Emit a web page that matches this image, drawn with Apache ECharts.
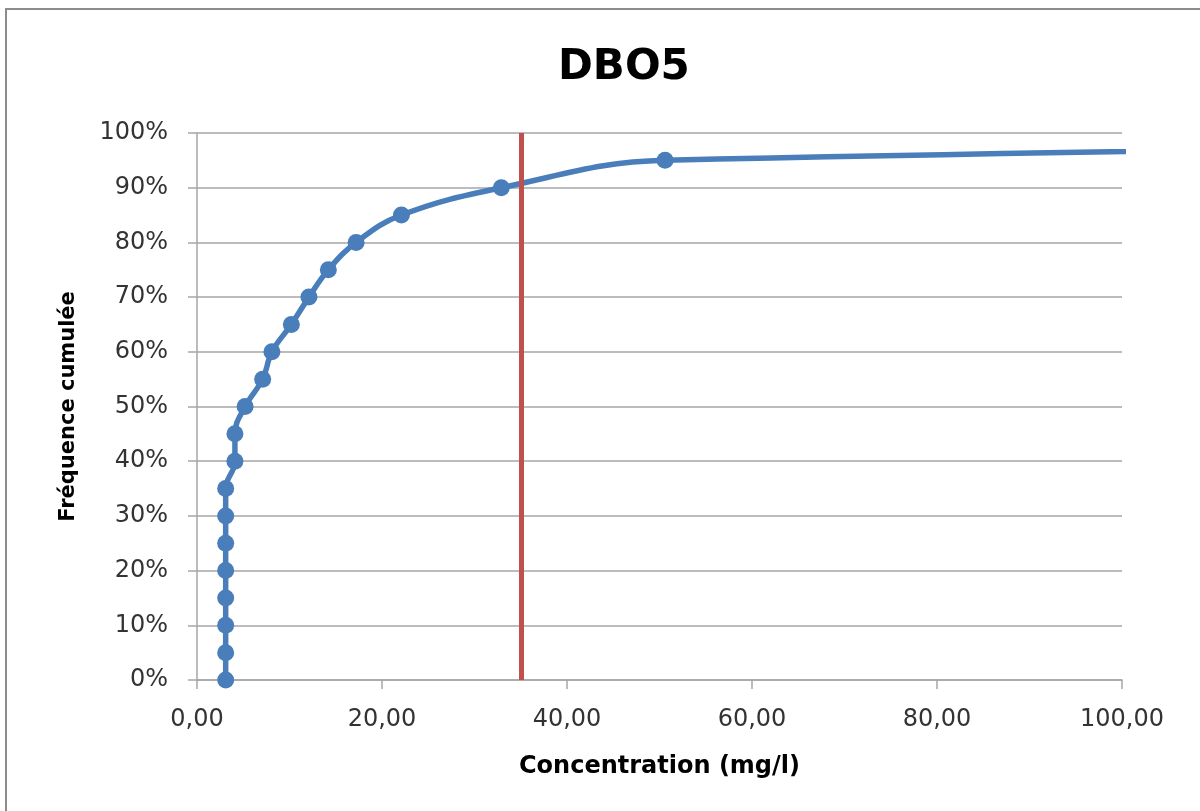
<!DOCTYPE html>
<html>
<head>
<meta charset="utf-8">
<script src="https://cdn.jsdelivr.net/npm/echarts@6/dist/echarts.min.js"></script>
<style>
    html, body { margin: 0; padding: 0; background: #fff; overflow: hidden; width: 1200px; height: 811px; }
    #frame { position: absolute; left: 5px; top: 8px; width: 1300px; height: 900px; border: 2px solid #8c8c8c; box-sizing: border-box; }
    #main { position: absolute; left: 0; top: 0; width: 1200px; height: 811px; }
</style>
</head>
<body>
<div id="frame"></div>
<div id="main"></div>
<script>
// concentration (mg/l), last one lies beyond the axis
var concentrations = [3.1, 3.1, 3.1, 3.1, 3.1, 3.1, 3.1, 3.1, 4.1, 4.1, 5.2, 7.1, 8.1, 10.2, 12.1, 14.2, 17.2, 22.1, 32.9, 50.6, 296];
// cumulative frequency (%)
var frequencies = [0, 5, 10, 15, 20, 25, 30, 35, 40, 45, 50, 55, 60, 65, 70, 75, 80, 85, 90, 95, 100];
var limitValue = 35;
var xTicks = [0, 100, 20];
var yTicks = [0, 100, 10];

var points = [];
for (var i = 0; i < concentrations.length; i++) {
    points.push([concentrations[i], frequencies[i]]);
}

var chart = echarts.init(document.getElementById('main'));
var labelFont = 'DejaVu Sans';

var option = {
    animation: false,
    title: {
        text: 'DBO5',
        left: 553,
        top: 42,
        textStyle: { fontFamily: labelFont, fontSize: 42, fontWeight: 'bold', color: '#000' }
    },
    grid: { left: 197, right: 78, top: 133, bottom: 131 },
    xAxis: {
        type: 'value',
        min: xTicks[0],
        max: xTicks[1],
        interval: xTicks[2],
        name: 'Concentration (mg/l)',
        nameLocation: 'middle',
        nameGap: 75,
        nameTextStyle: { fontFamily: labelFont, fontSize: 24, fontWeight: 'bold', color: '#000' },
        axisLine: { show: true, lineStyle: { color: '#a6a6a6', width: 1.5 } },
        axisTick: { show: true, inside: false, length: 9, lineStyle: { color: '#a6a6a6', width: 1.5 } },
        axisLabel: {
            margin: 28,
            fontFamily: labelFont, fontSize: 24, color: '#333',
            formatter: function (v) { return v.toFixed(2).replace('.', ','); }
        },
        splitLine: { show: false }
    },
    yAxis: {
        type: 'value',
        min: yTicks[0],
        max: yTicks[1],
        interval: yTicks[2],
        name: 'Fréquence cumulée',
        nameLocation: 'middle',
        nameGap: 118,
        nameTextStyle: { fontFamily: labelFont, fontSize: 21, fontWeight: 'bold', color: '#000' },
        axisLine: { show: true, lineStyle: { color: '#a6a6a6', width: 1.5 } },
        axisTick: { show: true, inside: false, length: 9, lineStyle: { color: '#a6a6a6', width: 1.5 } },
        axisLabel: {
            margin: 29,
            fontFamily: labelFont, fontSize: 24, color: '#333',
            formatter: '{value}%'
        },
        splitLine: { show: true, lineStyle: { color: '#a6a6a6', width: 1.5 } }
    },
    series: [{
        type: 'line',
        data: points,
        smooth: 0.4,
        clip: true,
        symbol: 'circle',
        symbolSize: 17,
        itemStyle: { color: '#4a7ebb' },
        lineStyle: { color: '#4a7ebb', width: 5.5 },
        markLine: {
            silent: true,
            symbol: ['none', 'none'],
            label: { show: false },
            lineStyle: { color: '#c0504d', width: 5, type: 'solid' },
            data: [{ xAxis: limitValue }]
        }
    }]
};

chart.setOption(option);
</script>
</body>
</html>
